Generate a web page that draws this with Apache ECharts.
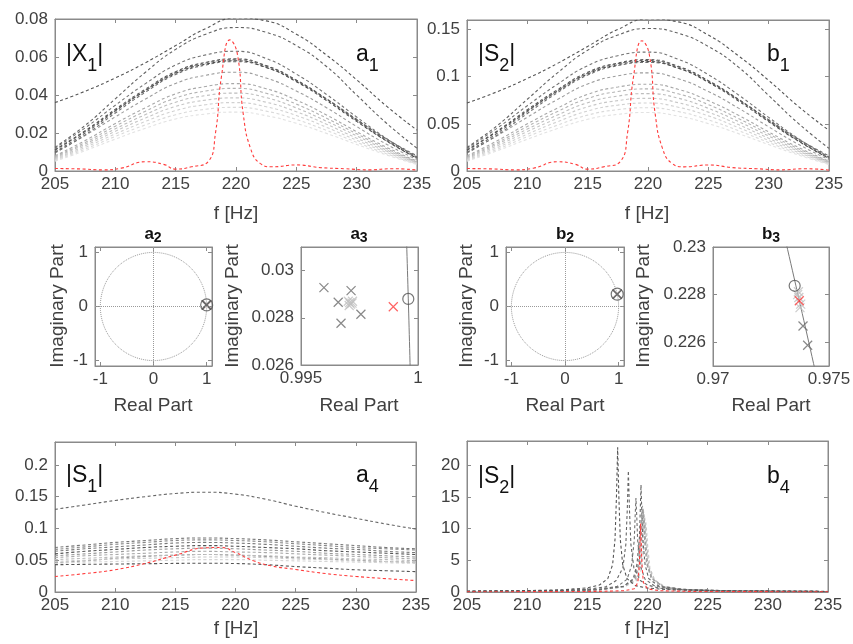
<!DOCTYPE html>
<html>
<head>
<meta charset="utf-8">
<script src="https://cdn.jsdelivr.net/npm/echarts@6/dist/echarts.min.js"></script>
<style>
  html, body { margin: 0; padding: 0; background: #fff; }
  #main { width: 853px; height: 644px; }
</style>
</head>
<body>
<div id="main"></div>
<script>
// ---- data ----
var freq = [205, 207.5, 210, 212.5, 215, 217.5, 220, 222.5, 225, 227.5, 230, 232.5, 235];
var freqTicks = [205, 210, 215, 220, 225, 230, 235];

// a1 : |X1|, gray curves (dark -> light)
var a1Gray = [
  [0.036, 0.042, 0.049, 0.057, 0.066, 0.075, 0.0805, 0.079, 0.072, 0.061, 0.048, 0.034, 0.0215],
  [0.0125, 0.024, 0.038, 0.052, 0.064, 0.072, 0.0755, 0.073, 0.066, 0.055, 0.040, 0.025, 0.012],
  [0.0120, 0.0227, 0.0346, 0.0460, 0.0558, 0.0611, 0.063, 0.0592, 0.051, 0.0403, 0.0284, 0.0170, 0.0072],
  [0.0112, 0.0212, 0.0325, 0.0431, 0.0523, 0.0572, 0.059, 0.0555, 0.0478, 0.0378, 0.0266, 0.0159, 0.0068],
  [0.0100, 0.0200, 0.0315, 0.0425, 0.0518, 0.0568, 0.0585, 0.0552, 0.0478, 0.0380, 0.0272, 0.0165, 0.0075],
  [0.0110, 0.0209, 0.0319, 0.0423, 0.0514, 0.0563, 0.058, 0.0545, 0.047, 0.0371, 0.0261, 0.0157, 0.0067],
  [0.0095, 0.0190, 0.0305, 0.0415, 0.0508, 0.0558, 0.0575, 0.0545, 0.0473, 0.0378, 0.0270, 0.0168, 0.0080],
  [0.0099, 0.0187, 0.0285, 0.0379, 0.0461, 0.0504, 0.052, 0.0489, 0.0421, 0.0333, 0.0234, 0.0140, 0.0060],
  [0.0080, 0.0160, 0.0250, 0.0333, 0.0406, 0.0445, 0.046, 0.0433, 0.0373, 0.0295, 0.0207, 0.0124, 0.0052],
  [0.0075, 0.0150, 0.0236, 0.0315, 0.0384, 0.0421, 0.0435, 0.0409, 0.0352, 0.0278, 0.0196, 0.0117, 0.0049],
  [0.0070, 0.0142, 0.0222, 0.0297, 0.0362, 0.0397, 0.041, 0.0386, 0.0332, 0.0262, 0.0185, 0.0110, 0.0046],
  [0.0065, 0.0133, 0.0209, 0.0279, 0.0340, 0.0373, 0.0385, 0.0362, 0.0312, 0.0246, 0.0173, 0.0104, 0.0043],
  [0.0060, 0.0124, 0.0195, 0.0261, 0.0318, 0.0349, 0.036, 0.0338, 0.0292, 0.0230, 0.0162, 0.0097, 0.0040],
  [0.0056, 0.0115, 0.0182, 0.0243, 0.0296, 0.0325, 0.0335, 0.0315, 0.0271, 0.0214, 0.0151, 0.0090, 0.0037],
  [0.0052, 0.0107, 0.0168, 0.0225, 0.0274, 0.0300, 0.031, 0.0291, 0.0251, 0.0198, 0.0140, 0.0084, 0.0034]
];
var a1RedFreq = [205, 207, 209, 210.5, 212.5, 214, 215, 216.3, 217.7, 218.3, 218.8, 219.5, 220.1, 220.6, 221.2, 222, 223, 225, 227, 229, 231, 233, 235];
var a1Red = [0.0013, 0.0011, 0.0006, 0.0015, 0.0049, 0.0035, 0.0010, 0.0022, 0.0050, 0.020, 0.050, 0.069, 0.062, 0.030, 0.012, 0.004, 0.0022, 0.0032, 0.0018, 0.0012, 0.0006, 0.0012, 0.0005];
var a1YTicks = [0, 0.02, 0.04, 0.06, 0.08];

// b1 : |S2|
var b1Gray = [
  [0.072, 0.084, 0.098, 0.114, 0.132, 0.150, 0.161, 0.158, 0.144, 0.122, 0.096, 0.068, 0.043],
  [0.025, 0.048, 0.076, 0.104, 0.128, 0.144, 0.151, 0.146, 0.132, 0.110, 0.080, 0.050, 0.024],
  [0.0240, 0.0454, 0.0692, 0.0920, 0.1116, 0.1222, 0.126, 0.1184, 0.102, 0.0806, 0.0568, 0.0340, 0.0144],
  [0.0224, 0.0424, 0.0650, 0.0862, 0.1046, 0.1144, 0.118, 0.1110, 0.0956, 0.0756, 0.0532, 0.0318, 0.0136],
  [0.0200, 0.0400, 0.0630, 0.0850, 0.1036, 0.1136, 0.117, 0.1104, 0.0956, 0.0760, 0.0544, 0.0330, 0.0150],
  [0.0220, 0.0418, 0.0638, 0.0846, 0.1028, 0.1126, 0.116, 0.1090, 0.094, 0.0742, 0.0522, 0.0314, 0.0134],
  [0.0190, 0.0380, 0.0610, 0.0830, 0.1016, 0.1116, 0.115, 0.1090, 0.0946, 0.0756, 0.0540, 0.0336, 0.0160],
  [0.0198, 0.0374, 0.0570, 0.0758, 0.0922, 0.1008, 0.104, 0.0978, 0.0842, 0.0666, 0.0468, 0.0280, 0.0120],
  [0.0160, 0.0320, 0.0500, 0.0666, 0.0812, 0.0890, 0.092, 0.0866, 0.0746, 0.0590, 0.0414, 0.0248, 0.0104],
  [0.0150, 0.0300, 0.0472, 0.0630, 0.0768, 0.0842, 0.087, 0.0818, 0.0704, 0.0556, 0.0392, 0.0234, 0.0098],
  [0.0140, 0.0284, 0.0444, 0.0594, 0.0724, 0.0794, 0.082, 0.0772, 0.0664, 0.0524, 0.0370, 0.0220, 0.0092],
  [0.0130, 0.0266, 0.0418, 0.0558, 0.0680, 0.0746, 0.077, 0.0724, 0.0624, 0.0492, 0.0346, 0.0208, 0.0086],
  [0.0120, 0.0248, 0.0390, 0.0522, 0.0636, 0.0698, 0.072, 0.0676, 0.0584, 0.0460, 0.0324, 0.0194, 0.0080],
  [0.0112, 0.0230, 0.0364, 0.0486, 0.0592, 0.0650, 0.067, 0.0630, 0.0542, 0.0428, 0.0302, 0.0180, 0.0074],
  [0.0104, 0.0214, 0.0336, 0.0450, 0.0548, 0.0600, 0.062, 0.0582, 0.0502, 0.0396, 0.0280, 0.0168, 0.0068]
];
var b1Red = [0.0026, 0.0022, 0.0012, 0.0030, 0.0098, 0.0070, 0.0020, 0.0044, 0.0100, 0.040, 0.100, 0.138, 0.124, 0.060, 0.024, 0.008, 0.0044, 0.0064, 0.0036, 0.0024, 0.0012, 0.0024, 0.0010];
var b1YTicks = [0, 0.05, 0.1, 0.15];

// a2/a3 and b2/b3 : poles (x) and zero (o)
var zeroA = [[0.999585, 0.0288]];
var polesAGray = [[0.99598, 0.02928], [0.99659, 0.02866], [0.99714, 0.02915], [0.99756, 0.02815], [0.99671, 0.02777]];
var polesALight = [[0.99702, 0.02870], [0.99708, 0.02864], [0.99712, 0.02858], [0.99718, 0.02862], [0.99706, 0.02852], [0.99720, 0.02870]];
var poleARed = [[0.998944, 0.02847]];
var zeroB = [[0.97352, 0.22837]];
var polesBGray = [[0.97388, 0.22668], [0.97408, 0.22587]];
var polesBLight = [[0.97365, 0.22800], [0.97370, 0.22788], [0.97378, 0.22760], [0.97368, 0.22812], [0.97375, 0.22745]];
var poleBRed = [[0.97372, 0.22774]];
var unitTicks = [-1, 0, 1];
var a3XTicks = [0.995, 1];
var a3YTicks = [0.026, 0.028, 0.03];
var b3XTicks = [0.97, 0.975];
var b3YTicks = [0.226, 0.228, 0.23];

// a4 : |S1|
var a4Gray = [
  [0.130, 0.137, 0.144, 0.150, 0.155, 0.157, 0.154, 0.146, 0.135, 0.125, 0.116, 0.107, 0.099],
  [0.070, 0.074, 0.078, 0.081, 0.084, 0.085, 0.084, 0.082, 0.079, 0.076, 0.073, 0.070, 0.068],
  [0.067, 0.071, 0.075, 0.078, 0.081, 0.082, 0.081, 0.079, 0.076, 0.073, 0.070, 0.068, 0.066],
  [0.064, 0.068, 0.071, 0.074, 0.077, 0.078, 0.077, 0.075, 0.072, 0.069, 0.067, 0.064, 0.062],
  [0.060, 0.064, 0.067, 0.070, 0.072, 0.073, 0.072, 0.070, 0.068, 0.065, 0.063, 0.061, 0.059],
  [0.057, 0.060, 0.063, 0.066, 0.068, 0.069, 0.068, 0.066, 0.064, 0.061, 0.059, 0.057, 0.055],
  [0.054, 0.057, 0.059, 0.061, 0.063, 0.064, 0.063, 0.062, 0.060, 0.058, 0.056, 0.054, 0.052],
  [0.051, 0.053, 0.055, 0.057, 0.058, 0.059, 0.058, 0.057, 0.055, 0.054, 0.052, 0.051, 0.049],
  [0.048, 0.050, 0.052, 0.053, 0.054, 0.055, 0.055, 0.054, 0.052, 0.051, 0.049, 0.048, 0.046],
  [0.045, 0.047, 0.048, 0.049, 0.050, 0.051, 0.051, 0.050, 0.049, 0.048, 0.047, 0.046, 0.045],
  [0.046, 0.049, 0.053, 0.056, 0.058, 0.059, 0.058, 0.056, 0.054, 0.052, 0.050, 0.048, 0.047],
  [0.043, 0.0435, 0.044, 0.0445, 0.045, 0.0453, 0.0448, 0.043, 0.040, 0.0375, 0.035, 0.0335, 0.032]
];
var a4RedFreq = [205, 207.5, 210, 212.5, 215, 217.5, 218.8, 220, 221.5, 223, 225, 227.5, 230, 232.5, 235];
var a4Red = [0.0245, 0.029, 0.035, 0.045, 0.058, 0.0695, 0.070, 0.062, 0.049, 0.041, 0.0355, 0.029, 0.0245, 0.021, 0.018];
var a4YTicks = [0, 0.05, 0.1, 0.15, 0.2];

// b4 : |S2| resonance peaks
var b4Freq = [
  [205, 210, 213, 215, 216, 216.7, 217.1, 217.3, 217.42, 217.52, 217.62, 217.74, 217.94, 218.3, 219, 220, 222, 226, 235],
  [205, 210, 213, 215, 216.5, 217.4, 217.95, 218.2, 218.32, 218.41, 218.5, 218.62, 218.87, 219.4, 220, 221, 223, 227, 235],
  [205, 210, 214, 216, 217.5, 218.3, 218.68, 218.9, 218.97, 219.04, 219.11, 219.18, 219.4, 219.8, 220.6, 222, 225, 235],
  [205, 210, 214, 216, 218, 218.8, 219.12, 219.33, 219.4, 219.46, 219.52, 219.6, 219.8, 220.1, 221, 223, 226, 235],
  [205, 212, 216, 218, 218.95, 219.3, 219.48, 219.57, 219.63, 219.69, 219.79, 219.97, 220.35, 221.25, 223, 227, 235],
  [205, 212, 216, 218, 218.9, 219.25, 219.43, 219.52, 219.58, 219.64, 219.74, 219.92, 220.3, 221.2, 223, 227, 235],
  [205, 212, 216, 218, 219.0, 219.35, 219.53, 219.62, 219.68, 219.74, 219.84, 220.02, 220.4, 221.3, 223, 227, 235],
  [205, 212, 216, 218, 219.1, 219.43, 219.61, 219.7, 219.76, 219.82, 219.92, 220.1, 220.5, 221.4, 223, 227, 235],
  [205, 212, 216, 218, 219.2, 219.53, 219.71, 219.8, 219.86, 219.92, 220.02, 220.2, 220.6, 221.5, 223, 227, 235]
];
var b4Mag = [
  [0.13, 0.22, 0.35, 0.65, 1.1, 2.1, 4.3, 8.3, 15, 22.8, 15, 8.3, 4.3, 2.1, 1.0, 0.62, 0.34, 0.18, 0.08],
  [0.12, 0.18, 0.27, 0.42, 0.8, 1.8, 3.8, 7.5, 13, 19.1, 13, 7.5, 3.8, 1.8, 1.1, 0.6, 0.32, 0.17, 0.08],
  [0.1, 0.15, 0.27, 0.45, 0.9, 2.0, 4.2, 8.2, 11.8, 14.8, 11.8, 8.2, 4.2, 2.0, 0.95, 0.45, 0.24, 0.08],
  [0.09, 0.14, 0.24, 0.38, 0.9, 2.0, 4.3, 8.6, 13, 16.9, 13, 8.6, 4.3, 2.1, 0.85, 0.4, 0.22, 0.09],
  [0.08, 0.17, 0.37, 0.88, 2.15, 4.4, 8.6, 11.7, 13.2, 11.7, 8.6, 4.4, 2.15, 0.88, 0.42, 0.18, 0.08],
  [0.08, 0.18, 0.38, 0.9, 2.2, 4.5, 8.8, 12, 13.6, 12, 8.8, 4.5, 2.2, 0.9, 0.42, 0.18, 0.08],
  [0.08, 0.17, 0.36, 0.85, 2.1, 4.3, 8.3, 11.3, 12.7, 11.3, 8.3, 4.3, 2.1, 0.85, 0.42, 0.18, 0.08],
  [0.07, 0.16, 0.34, 0.8, 2.0, 4.0, 7.8, 10.6, 11.9, 10.6, 7.8, 4.0, 2.0, 0.8, 0.4, 0.17, 0.07],
  [0.07, 0.15, 0.32, 0.75, 1.9, 3.8, 7.2, 9.8, 11.0, 9.8, 7.2, 3.8, 1.9, 0.75, 0.38, 0.16, 0.07]
];
var b4RedFreq = [205, 212, 216, 218, 218.9, 219.2, 219.33, 219.39, 219.43, 219.47, 219.53, 219.66, 220, 221, 224, 235];
var b4Red = [0.04, 0.06, 0.1, 0.2, 0.5, 1.5, 4.5, 8.5, 10.8, 8.5, 4.5, 1.5, 0.5, 0.2, 0.08, 0.03];
var b4YTicks = [0, 5, 10, 15, 20];

// ---- styling ----
var FONT = '"Liberation Sans", Arial, Helvetica, sans-serif';
var TXT = '#404040';
var BOX = '#8a8a8a';
var RED = '#ff3b3b';
var a1Shades = ['#555', '#636363', '#737373', '#5a5a5a', '#666', '#4a4a4a', '#6e6e6e', '#9c9c9c', '#a8a8a8', '#b3b3b3', '#bdbdbd', '#c7c7c7', '#d1d1d1', '#dadada', '#e2e2e2'];
var a4Shades = ['#666', '#777', '#888', '#7a7a7a', '#555', '#999', '#aaa', '#bbb', '#c8c8c8', '#d5d5d5', '#909090', '#555'];
var b4Shades = ['#555', '#666', '#707070', '#666', '#a0a0a0', '#999', '#aaa', '#bbb', '#c8c8c8'];
var CROSS = 'path://M0,0L10,10M10,0L0,10';

// grid boxes: [left, top, width, height]
var panels = [
  { box: [55, 19, 362, 152], x: [205, 235], xt: freqTicks, y: [0, 0.08], yt: a1YTicks },
  { box: [467, 20, 362, 151], x: [205, 235], xt: freqTicks, y: [0, 0.16], yt: b1YTicks },
  { box: [95, 247, 117, 119], x: [-1.1, 1.1], xt: unitTicks, y: [-1.1, 1.1], yt: unitTicks },
  { box: [301, 247, 117, 118], x: [0.995, 1], xt: a3XTicks, y: [0.026, 0.031], yt: a3YTicks },
  { box: [506, 247, 118, 119], x: [-1.1, 1.1], xt: unitTicks, y: [-1.1, 1.1], yt: unitTicks },
  { box: [713, 247, 116, 119], x: [0.97, 0.975], xt: b3XTicks, y: [0.225, 0.23], yt: b3YTicks },
  { box: [55, 442, 361, 150], x: [205, 235], xt: freqTicks, y: [0, 0.236], yt: a4YTicks },
  { box: [467, 441, 361, 151], x: [205, 235], xt: freqTicks, y: [0, 23.8], yt: b4YTicks }
];

function makeAxis(p, i, dim, mirror) {
  var range = dim === 'x' ? p.x : p.y;
  var ticks = dim === 'x' ? p.xt : p.yt;
  return {
    type: 'value', gridIndex: i, min: range[0], max: range[1],
    position: dim === 'x' ? (mirror ? 'top' : 'bottom') : (mirror ? 'right' : 'left'),
    splitLine: { show: false },
    axisLine: { show: true, onZero: false, lineStyle: { color: BOX, width: 1 } },
    axisTick: { show: true, inside: true, length: 4, customValues: ticks, lineStyle: { color: BOX } },
    axisLabel: { show: !mirror, customValues: ticks, color: TXT, fontSize: 17, fontFamily: FONT, margin: dim === 'x' ? 5 : 7 }
  };
}

var xAxes = [], yAxes = [];
panels.forEach(function (p, i) { xAxes.push(makeAxis(p, i, 'x', false)); yAxes.push(makeAxis(p, i, 'y', false)); });
panels.forEach(function (p, i) { xAxes.push(makeAxis(p, i, 'x', true)); yAxes.push(makeAxis(p, i, 'y', true)); });

function pairs(xs, ys) { return xs.map(function (x, k) { return [x, ys[k]]; }); }

function curve(i, xs, ys, color, smooth) {
  return {
    type: 'line', xAxisIndex: i, yAxisIndex: i, data: pairs(xs, ys),
    showSymbol: false, smooth: smooth, silent: true, z: 2,
    lineStyle: { color: color, width: 1.1, type: [3, 2.5] }
  };
}

function marks(i, pts, symbol, size, color, z) {
  return {
    type: 'scatter', xAxisIndex: i, yAxisIndex: i, data: pts, symbol: symbol, symbolSize: size,
    silent: true, z: z,
    itemStyle: { color: 'transparent', borderColor: color, borderWidth: 1.2 }
  };
}

var series = [];
// spectra panels: light curves first so the dark ones sit on top
function spectra(i, gray, shades, redX, red) {
  for (var k = gray.length - 1; k >= 0; k--) series.push(curve(i, freq, gray[k], shades[k], true));
  series.push(curve(i, redX, red, RED, true));
}
spectra(0, a1Gray, a1Shades, a1RedFreq, a1Red);
spectra(1, b1Gray, a1Shades, a1RedFreq, b1Red);
spectra(6, a4Gray, a4Shades, a4RedFreq, a4Red);
for (var k = b4Freq.length - 1; k >= 0; k--) series.push(curve(7, b4Freq[k], b4Mag[k], b4Shades[k], false));
series.push(curve(7, b4RedFreq, b4Red, RED, false));

// unit circle (reference geometry of the z-plane)
var circle = [];
for (var d = 0; d <= 360; d += 2) circle.push([Math.cos(d * Math.PI / 180), Math.sin(d * Math.PI / 180)]);
function arc(y0, y1) {
  var out = [];
  for (var s = 0; s <= 20; s++) { var y = y0 + (y1 - y0) * s / 20; out.push([Math.sqrt(1 - y * y), y]); }
  return out;
}
function zplane(i, pts, full, zero, gray, light, red) {
  var c = {
    type: 'line', xAxisIndex: i, yAxisIndex: i, data: pts, showSymbol: false, silent: true, z: 1,
    lineStyle: { color: full ? '#9a9a9a' : '#7a7a7a', width: 1, type: full ? 'dotted' : 'solid' }
  };
  if (full) {
    c.markLine = {
      silent: true, symbol: 'none', label: { show: false }, animation: false,
      lineStyle: { color: '#9a9a9a', width: 1, type: 'dotted' },
      data: [{ xAxis: 0 }, { yAxis: 0 }]
    };
  }
  series.push(c);
  // in the full view the red pole hides under the gray ones
  series.push(marks(i, red, CROSS, 9, RED, full ? 2 : 5));
  series.push(marks(i, light, CROSS, 9, '#c0c0c0', 3));
  series.push(marks(i, gray, CROSS, 9, '#6a6a6a', 4));
  series.push(marks(i, zero, 'circle', full ? 12 : 11, '#555', 6));
}
zplane(2, circle, true, zeroA, polesAGray, polesALight, poleARed);
zplane(3, arc(0.0255, 0.0315), false, zeroA, polesAGray, polesALight, poleARed);
zplane(4, circle, true, zeroB, polesBGray, polesBLight, poleBRed);
zplane(5, arc(0.2245, 0.2305), false, zeroB, polesBGray, polesBLight, poleBRed);

// ---- text ----
var measure = document.createElement('canvas').getContext('2d');
function textW(str, size, bold) {
  measure.font = (bold ? 'bold ' : '') + size + 'px ' + FONT;
  return measure.measureText(str).width;
}
function piece(x, y, str, size, bold) {
  return { type: 'text', x: x, y: y, silent: true, z: 10,
    style: { text: str, fill: '#111', fontSize: size, fontWeight: bold ? 'bold' : 'normal',
      fontFamily: FONT, align: 'left', verticalAlign: 'middle' } };
}
// main text + subscript (+ tail), placed by baseline
function subText(x, base, main, sub, tail, F, f, drop, bold, centered) {
  var w1 = textW(main, F, bold), w2 = textW(sub, f, bold), w3 = tail ? textW(tail, F, bold) : 0;
  var x0 = centered ? x - (w1 + w2 + w3) / 2 : x;
  var out = [
    piece(x0, base - 0.3465 * F, main, F, bold),
    piece(x0 + w1, base + drop - 0.3465 * f, sub, f, bold)
  ];
  if (tail) out.push(piece(x0 + w1 + w2, base - 0.3465 * F, tail, F, bold));
  return out;
}
function label(x, y, text, rot) {
  return { type: 'text', x: x, y: y, rotation: rot || 0, silent: true, z: 10,
    style: { text: text, fill: TXT, fontSize: 19, fontFamily: FONT, align: 'center', verticalAlign: 'middle' } };
}
var graphics = [].concat(
  subText(66, 63, '|X', '1', '|', 23, 18, 9, false),
  subText(356, 63, 'a', '1', '', 23, 18, 9, false),
  subText(478, 63, '|S', '2', '|', 23, 18, 9, false),
  subText(767, 63, 'b', '1', '', 23, 18, 9, false),
  subText(66, 484, '|S', '1', '|', 23, 18, 9, false),
  subText(356, 484, 'a', '4', '', 23, 18, 9, false),
  subText(478, 485, '|S', '2', '|', 23, 18, 9, false),
  subText(767, 485, 'b', '4', '', 23, 18, 9, false),
  subText(153, 240, 'a', '2', '', 17, 14, 3, true, true),
  subText(359, 240, 'a', '3', '', 17, 14, 3, true, true),
  subText(565, 240, 'b', '2', '', 17, 14, 3, true, true),
  subText(771, 240, 'b', '3', '', 17, 14, 3, true, true),
  [
    label(236, 214, 'f [Hz]'),
    label(647, 214, 'f [Hz]'),
    label(236, 629, 'f [Hz]'),
    label(647, 629, 'f [Hz]'),
    label(153, 406, 'Real Part'),
    label(359, 406, 'Real Part'),
    label(565, 406, 'Real Part'),
    label(771, 406, 'Real Part'),
    label(58, 306, 'Imaginary Part', Math.PI / 2),
    label(233, 306, 'Imaginary Part', Math.PI / 2),
    label(467, 306, 'Imaginary Part', Math.PI / 2),
    label(644, 306, 'Imaginary Part', Math.PI / 2)
  ]
);

var chart = echarts.init(document.getElementById('main'));
chart.setOption({
  animation: false,
  backgroundColor: '#fff',
  grid: panels.map(function (p) {
    return { left: p.box[0], top: p.box[1], width: p.box[2], height: p.box[3],
      show: true, borderColor: BOX, borderWidth: 1, backgroundColor: 'transparent',
      containLabel: false, outerBoundsMode: 'none' };
  }),
  xAxis: xAxes,
  yAxis: yAxes,
  series: series,
  graphic: graphics
});
</script>
</body>
</html>
